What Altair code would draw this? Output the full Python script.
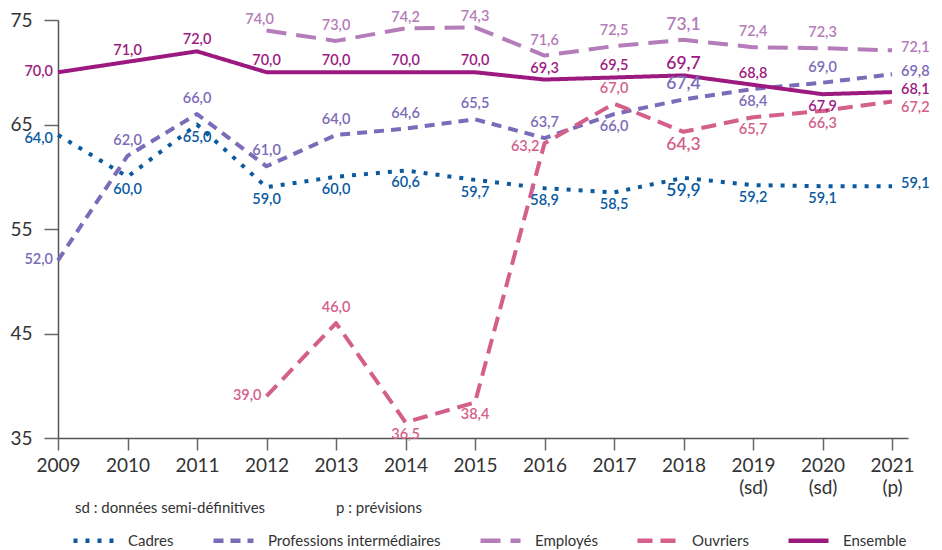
import altair as alt
import pandas as pd

annees = list(range(2009, 2022))
series = ["Cadres", "Professions intermédiaires", "Employés", "Ouvriers", "Ensemble"]
couleurs = ["#0b5a9e", "#7b6bb8", "#b47cb8", "#d45f8a", "#9c1a80"]
tirets = [[4, 8], [10, 7], [20, 10], [15, 8], [1, 0]]

cadres = [64.0, 60.0, 65.0, 59.0, 60.0, 60.6, 59.7, 58.9, 58.5, 59.9, 59.2, 59.1, 59.1]
prof_inter = [52.0, 62.0, 66.0, 61.0, 64.0, 64.6, 65.5, 63.7, 66.0, 67.4, 68.4, 69.0, 69.8]
employes = [None, None, None, 74.0, 73.0, 74.2, 74.3, 71.6, 72.5, 73.1, 72.4, 72.3, 72.1]
ouvriers = [None, None, None, 39.0, 46.0, 36.5, 38.4, 63.2, 67.0, 64.3, 65.7, 66.3, 67.2]
ensemble = [70.0, 71.0, 72.0, 70.0, 70.0, 70.0, 70.0, 69.3, 69.5, 69.7, 68.8, 67.9, 68.1]

# label placement relative to each point
pos_cadres = ["leftlow", "below", "below", "below", "below", "below", "below", "below", "below", "below", "below", "below", "right"]
pos_prof = ["left", "above", "above", "above", "above", "above", "above", "above", "below", "above", "below", "above", "right"]
pos_empl = [None, None, None, "aboveleft", "above", "top", "top", "above", "above", "above", "above", "above", "right"]
pos_ouv = [None, None, None, "left", "above", "below", "below", "leftlow", "above", "below", "below", "below", "rightlow"]
pos_ens = ["left", "near", "near", "near", "near", "near", "near", "near", "near", "near", "near", "below", "right"]

notes = ["sd : données semi-définitives", "p : prévisions"]

valeurs = [cadres, prof_inter, employes, ouvriers, ensemble]
positions = [pos_cadres, pos_prof, pos_empl, pos_ouv, pos_ens]
rows = []
for s, vals, poss in zip(series, valeurs, positions):
    for a, v, p in zip(annees, vals, poss):
        if v is None:
            continue
        rows.append({"serie": s, "annee": a, "valeur": v, "pos": p,
                     "label": f"{v:.1f}".replace(".", ",")})
df = pd.DataFrame(rows)

AXF = "Lato, sans-serif"
LABELF = "Lato, Noto Sans, sans-serif"

xenc = alt.X("annee:Q",
             scale=alt.Scale(domain=[2009, 2021.23], nice=False, zero=False),
             axis=alt.Axis(values=annees, format="d", title=None, grid=False,
                           labelExpr="datum.value == 2019 || datum.value == 2020 ? [datum.label, '(sd)'] : datum.value == 2021 ? [datum.label, '(p)'] : datum.label",
                           tickSize=12, labelPadding=6, labelFlush=False, labelOverlap=False,
                           labelFont=AXF, labelFontSize=19, labelLineHeight=22, labelFontWeight="normal",
                           labelColor="#333333", domainColor="#555555", tickColor="#666666",
                           domainWidth=1.5, tickWidth=1.5, labelBaseline="top"))
yenc = alt.Y("valeur:Q",
             scale=alt.Scale(domain=[35, 75], nice=False, zero=False),
             axis=alt.Axis(values=[35, 45, 55, 65, 75], title=None, grid=False,
                           tickSize=14, labelPadding=12, labelFont=AXF, labelFontSize=19,
                           labelFontWeight="normal",
                           labelColor="#333333", domainColor="#555555", tickColor="#666666",
                           domainWidth=1.5, tickWidth=1.5))

cscale = alt.Scale(domain=series, range=couleurs)
dscale = alt.Scale(domain=series, range=tirets)

leg = alt.Legend(orient="none", legendX=13, legendY=498, direction="horizontal", title=None,
                 symbolType="stroke", symbolSize=1600, symbolStrokeWidth=4.5,
                 labelFont=AXF, labelFontSize=15, labelColor="#333333", labelLimit=400,
                 labelOffset=12, columnPadding=30)

base = alt.Chart(df)

lines = base.mark_line(strokeWidth=4, strokeJoin="round").encode(
    x=xenc, y=yenc,
    color=alt.Color("serie:N", scale=cscale, legend=leg, sort=series),
    strokeDash=alt.StrokeDash("serie:N", scale=dscale, legend=leg, sort=series),
    detail="serie:N",
)

placements = {
    "above": dict(dx=0, dy=-15, align="center"),
    "top": dict(dx=0, dy=-10, align="center"),
    "near": dict(dx=0, dy=-11, align="center"),
    "below": dict(dx=0, dy=13, align="center"),
    "left": dict(dx=-5, dy=0, align="right"),
    "leftlow": dict(dx=-5, dy=4, align="right"),
    "right": dict(dx=9, dy=-2, align="left"),
    "rightlow": dict(dx=9, dy=6, align="left"),
    "aboveleft": dict(dx=-7, dy=-10, align="center"),
}

text_layers = []
for code, p in placements.items():
    t = base.transform_filter(alt.datum.pos == code).mark_text(
        font=LABELF, fontWeight=600, baseline="middle", **p
    ).encode(
        x=alt.X("annee:Q"), y=alt.Y("valeur:Q"), text="label:N",
        color=alt.Color("serie:N", scale=cscale, legend=None),
        size=alt.condition(alt.datum.annee == 2018, alt.value(17.5), alt.value(14.5)),
    )
    text_layers.append(t)

note1 = alt.Chart(pd.DataFrame({"t": [notes[0]]})).mark_text(
    font=AXF, fontSize=15, color="#333333", align="left", baseline="middle"
).encode(text="t:N", x=alt.value(17), y=alt.value(488))
note2 = alt.Chart(pd.DataFrame({"t": [notes[1]]})).mark_text(
    font=AXF, fontSize=15, color="#333333", align="left", baseline="middle"
).encode(text="t:N", x=alt.value(278), y=alt.value(488))

chart = alt.layer(lines, *text_layers, note1, note2).resolve_legend(
    color="independent", strokeDash="independent"
).properties(
    width=850, height=418,
    autosize=alt.AutoSizeParams(type="none"),
    padding={"left": 50, "top": 12, "right": 26, "bottom": 112},
).configure_view(stroke=None)

chart.save("out.html", embed_options={"renderer": "svg", "actions": False})
